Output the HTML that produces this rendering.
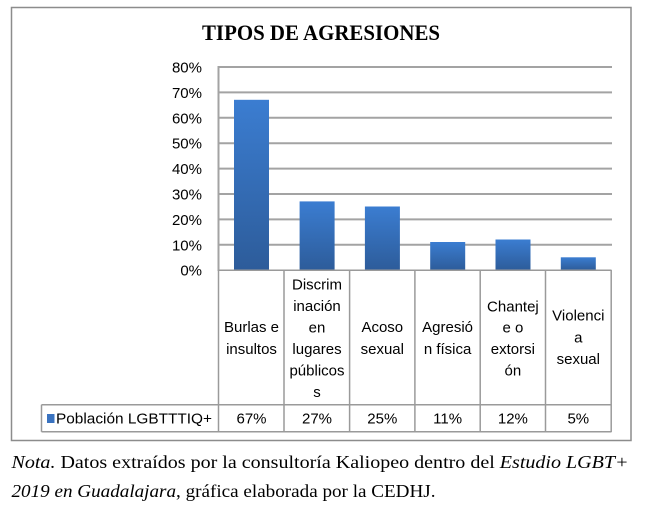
<!DOCTYPE html>
<html><head><meta charset="utf-8"><style>
html,body{margin:0;padding:0;background:#fff;}
svg{display:block;}
.s{font-family:"Liberation Sans",sans-serif;font-size:15px;fill:#000;}
.n{font-family:"Liberation Serif",serif;font-size:17.5px;fill:#000;}
</style></head><body>
<svg width="648" height="511" viewBox="0 0 648 511" xmlns="http://www.w3.org/2000/svg">
<defs>
<linearGradient id="g" x1="0" y1="0" x2="0" y2="1">
<stop offset="0" stop-color="#3b7dd1"/>
<stop offset="1" stop-color="#2d5c9a"/>
</linearGradient>
</defs>
<rect x="11.5" y="7.5" width="619.5" height="433" fill="#fff" stroke="#8c8c8c" stroke-width="1.5"/>
<text x="321" y="40" text-anchor="middle" font-family="Liberation Serif,serif" font-weight="bold" font-size="22" textLength="238" lengthAdjust="spacingAndGlyphs">TIPOS DE AGRESIONES</text>
<!-- gridlines -->
<g stroke="#a3a3a3" stroke-width="2">
<line x1="218" y1="67" x2="612" y2="67"/>
<line x1="218" y1="92.4" x2="612" y2="92.4"/>
<line x1="218" y1="117.8" x2="612" y2="117.8"/>
<line x1="218" y1="143.2" x2="612" y2="143.2"/>
<line x1="218" y1="168.6" x2="612" y2="168.6"/>
<line x1="218" y1="194" x2="612" y2="194"/>
<line x1="218" y1="219.4" x2="612" y2="219.4"/>
<line x1="218" y1="244.8" x2="612" y2="244.8"/>
<line x1="218.5" y1="66" x2="218.5" y2="271"/>
</g>
<!-- y labels -->
<g class="s" text-anchor="end">
<text x="202" y="72.5">80%</text>
<text x="202" y="97.9">70%</text>
<text x="202" y="123.3">60%</text>
<text x="202" y="148.7">50%</text>
<text x="202" y="174.1">40%</text>
<text x="202" y="199.5">30%</text>
<text x="202" y="224.9">20%</text>
<text x="202" y="250.3">10%</text>
<text x="202" y="275.7">0%</text>
</g>
<!-- bars -->
<rect x="234" y="99.8" width="35" height="170.2" fill="url(#g)"/>
<rect x="299.6" y="201.4" width="35" height="68.6" fill="url(#g)"/>
<rect x="364.9" y="206.5" width="35" height="63.5" fill="url(#g)"/>
<rect x="430.2" y="242" width="35" height="28" fill="url(#g)"/>
<rect x="495.5" y="239.5" width="35" height="30.5" fill="url(#g)"/>
<rect x="560.8" y="257.3" width="35" height="12.7" fill="url(#g)"/>
<!-- table -->
<g stroke="#9a9a9a" stroke-width="1.5" fill="none">
<line x1="218.5" y1="270.3" x2="611.5" y2="270.3"/>
<line x1="41.5" y1="404.7" x2="611.5" y2="404.7"/>
<line x1="41.5" y1="431.8" x2="611.5" y2="431.8"/>
<line x1="41.5" y1="404.7" x2="41.5" y2="431.8"/>
<line x1="218.5" y1="270" x2="218.5" y2="432"/>
<line x1="284" y1="270" x2="284" y2="432"/>
<line x1="349.6" y1="270" x2="349.6" y2="432"/>
<line x1="414.9" y1="270" x2="414.9" y2="432"/>
<line x1="480.2" y1="270" x2="480.2" y2="432"/>
<line x1="545.5" y1="270" x2="545.5" y2="432"/>
<line x1="611.2" y1="270" x2="611.2" y2="432"/>
</g>
<g class="s" text-anchor="middle">
<text x="251.5" y="332">Burlas e</text>
<text x="251.5" y="354">insultos</text>
<text x="317" y="289.5">Discrim</text>
<text x="317" y="311">inación</text>
<text x="317" y="332.5">en</text>
<text x="317" y="354">lugares</text>
<text x="317" y="375.5">públicos</text>
<text x="317" y="397">s</text>
<text x="382.3" y="332">Acoso</text>
<text x="382.3" y="354">sexual</text>
<text x="447.6" y="332">Agresió</text>
<text x="447.6" y="354">n física</text>
<text x="512.9" y="311.5">Chantej</text>
<text x="512.9" y="332.5">e o</text>
<text x="512.9" y="354">extorsi</text>
<text x="512.9" y="375.5">ón</text>
<text x="578.3" y="320.5">Violenci</text>
<text x="578.3" y="342.5">a</text>
<text x="578.3" y="364">sexual</text>
<text x="251.5" y="423.5">67%</text>
<text x="317" y="423.5">27%</text>
<text x="382.3" y="423.5">25%</text>
<text x="447.6" y="423.5">11%</text>
<text x="512.9" y="423.5">12%</text>
<text x="578.3" y="423.5">5%</text>
</g>
<rect x="47" y="414" width="7.5" height="9" fill="#3a73c0"/>
<text class="s" x="56" y="423.5" textLength="156" lengthAdjust="spacingAndGlyphs">Población LGBTTTIQ+</text>
<!-- note -->
<text class="n" x="11.5" y="468" textLength="617" lengthAdjust="spacingAndGlyphs"><tspan font-style="italic">Nota.</tspan> Datos extraídos por la consultoría Kaliopeo dentro del <tspan font-style="italic">Estudio LGBT+</tspan></text>
<text class="n" x="11.5" y="497" textLength="424" lengthAdjust="spacingAndGlyphs"><tspan font-style="italic">2019 en Guadalajara</tspan>, gráfica elaborada por la CEDHJ.</text>
</svg>
</body></html>
